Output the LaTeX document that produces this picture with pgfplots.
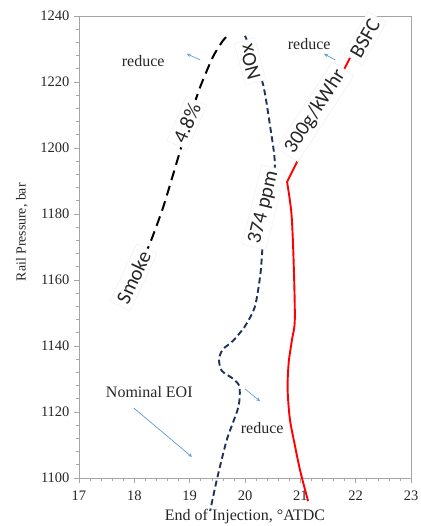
\documentclass[border=0pt]{standalone}
\usepackage{fontspec}
\setmainfont{Liberation Serif}
\newfontfamily\labfont{Carlito}
\usepackage{pgfplots}
\pgfplotsset{compat=1.18}
\usetikzlibrary{calc}
\definecolor{noxblue}{RGB}{31,50,90}
\definecolor{arrblue}{RGB}{91,155,213}
\definecolor{axgray}{RGB}{165,165,165}
\tikzset{
  lab/.style={font=\labfont\fontsize{20.5}{22}\selectfont, fill=white, draw=black!7, inner sep=4pt, text=black!85},
  rd/.style={font=\fontsize{16}{18}\selectfont, text=black!85},
  arr/.style={-stealth, arrblue, line width=0.7pt},
}
\begin{document}
\begin{tikzpicture}
\begin{axis}[
  scale only axis, width=332pt, height=462pt,
  xmin=17, xmax=23, ymin=1100, ymax=1240,
  xtick={17,18,...,23}, ytick={1100,1120,...,1240},
  minor x tick num=4, minor y tick num=4,
  xtick pos=bottom, ytick pos=left,
  tick align=outside, major tick length=5pt, minor tick length=3pt,
  axis line style={axgray, line width=0.8pt},
  tick style={axgray, line width=0.6pt},
  clip=false,
  /pgf/number format/assume math mode=true,
  /pgf/number format/1000 sep={},
  ticklabel style={font=\fontsize{14.5}{16}\selectfont, text=black!85},
  yticklabel style={xshift=-1pt},
  xticklabel style={yshift=-4pt},
  xlabel={End of Injection, °ATDC},
  ylabel={Rail Pressure, bar},
  xlabel style={font=\fontsize{16}{18}\selectfont, text=black!85, at={(axis description cs:0.5,-0.084)}, anchor=center},
  ylabel style={font=\fontsize{13.8}{16}\selectfont, text=black!85, at={(axis description cs:-0.172,0.532)}, anchor=center},
]
% Smoke
\addplot[black, line width=2pt, dash pattern=on 10pt off 6pt, smooth, tension=0.4] coordinates {
(17.86,1154) (18.0,1161) (18.14,1166) (18.28,1171) (18.52,1182) (18.79,1197) (19.0,1209) (19.19,1218.5) (19.42,1227.6) (19.6,1232.5) (19.73,1234.8)};
% NOx
\addplot[noxblue, line width=1.9pt, dash pattern=on 6pt off 3.5pt, smooth, tension=0.45] coordinates {
(20.0,1234) (20.15,1228) (20.33,1219) (20.45,1207) (20.54,1195) (20.45,1183) (20.33,1172) (20.28,1162) (20.18,1152) (20.0,1146) (19.78,1141.5) (19.6,1139) (19.53,1136) (19.58,1132.5) (19.79,1130) (19.9,1127.6) (19.88,1121.5) (19.67,1111.5) (19.49,1099.4) (19.37,1090)};
% BSFC
\addplot[red, line width=1.9pt, smooth, tension=0.5] coordinates {
(21.14,1093) (21.0,1102) (20.9,1110) (20.81,1118) (20.77,1127) (20.79,1135) (20.85,1142) (20.9,1148) (20.88,1165) (20.84,1180) (20.76,1189.7)};
\addplot[red, line width=1.9pt] coordinates {(20.76,1189.7) (20.94,1195.8) (22.1,1234)};
% labels
\node[lab, rotate=65] at (axis cs:17.985,1160.8) {Smoke};
\node[lab, rotate=66] at (axis cs:18.95,1207.6) {4.8\%};
\node[lab, rotate=105] at (axis cs:20.09,1226.2) {NOx};
\node[lab, rotate=76] at (axis cs:20.34,1182) {374 ppm};
\node[lab, rotate=57] at (axis cs:21.27,1211) {300g/kWhr};
\node[lab, rotate=60] at (axis cs:22.17,1233.3) {BSFC};
% reduce annotations
\node[rd] at (axis cs:18.16,1226.4) {reduce};
\draw[arr] (axis cs:19.19,1226.7) -- (axis cs:18.95,1228.5);
\node[rd] at (axis cs:21.16,1231.5) {reduce};
\draw[arr] (axis cs:21.63,1226.7) -- (axis cs:21.43,1228.5);
\node[rd] at (axis cs:18.27,1126) {Nominal EOI};
\draw[arr] (axis cs:17.99,1121.2) -- (axis cs:19.04,1106.4);
\node[rd] at (axis cs:20.31,1115.2) {reduce};
\draw[arr] (axis cs:20.0,1127) -- (axis cs:20.27,1123.3);
\end{axis}
\pgfresetboundingbox
\path[use as bounding box] ($(current axis.south west)+(-79pt,-48pt)$) rectangle ($(current axis.north east)+(10pt,16pt)$);
\end{tikzpicture}
\end{document}
